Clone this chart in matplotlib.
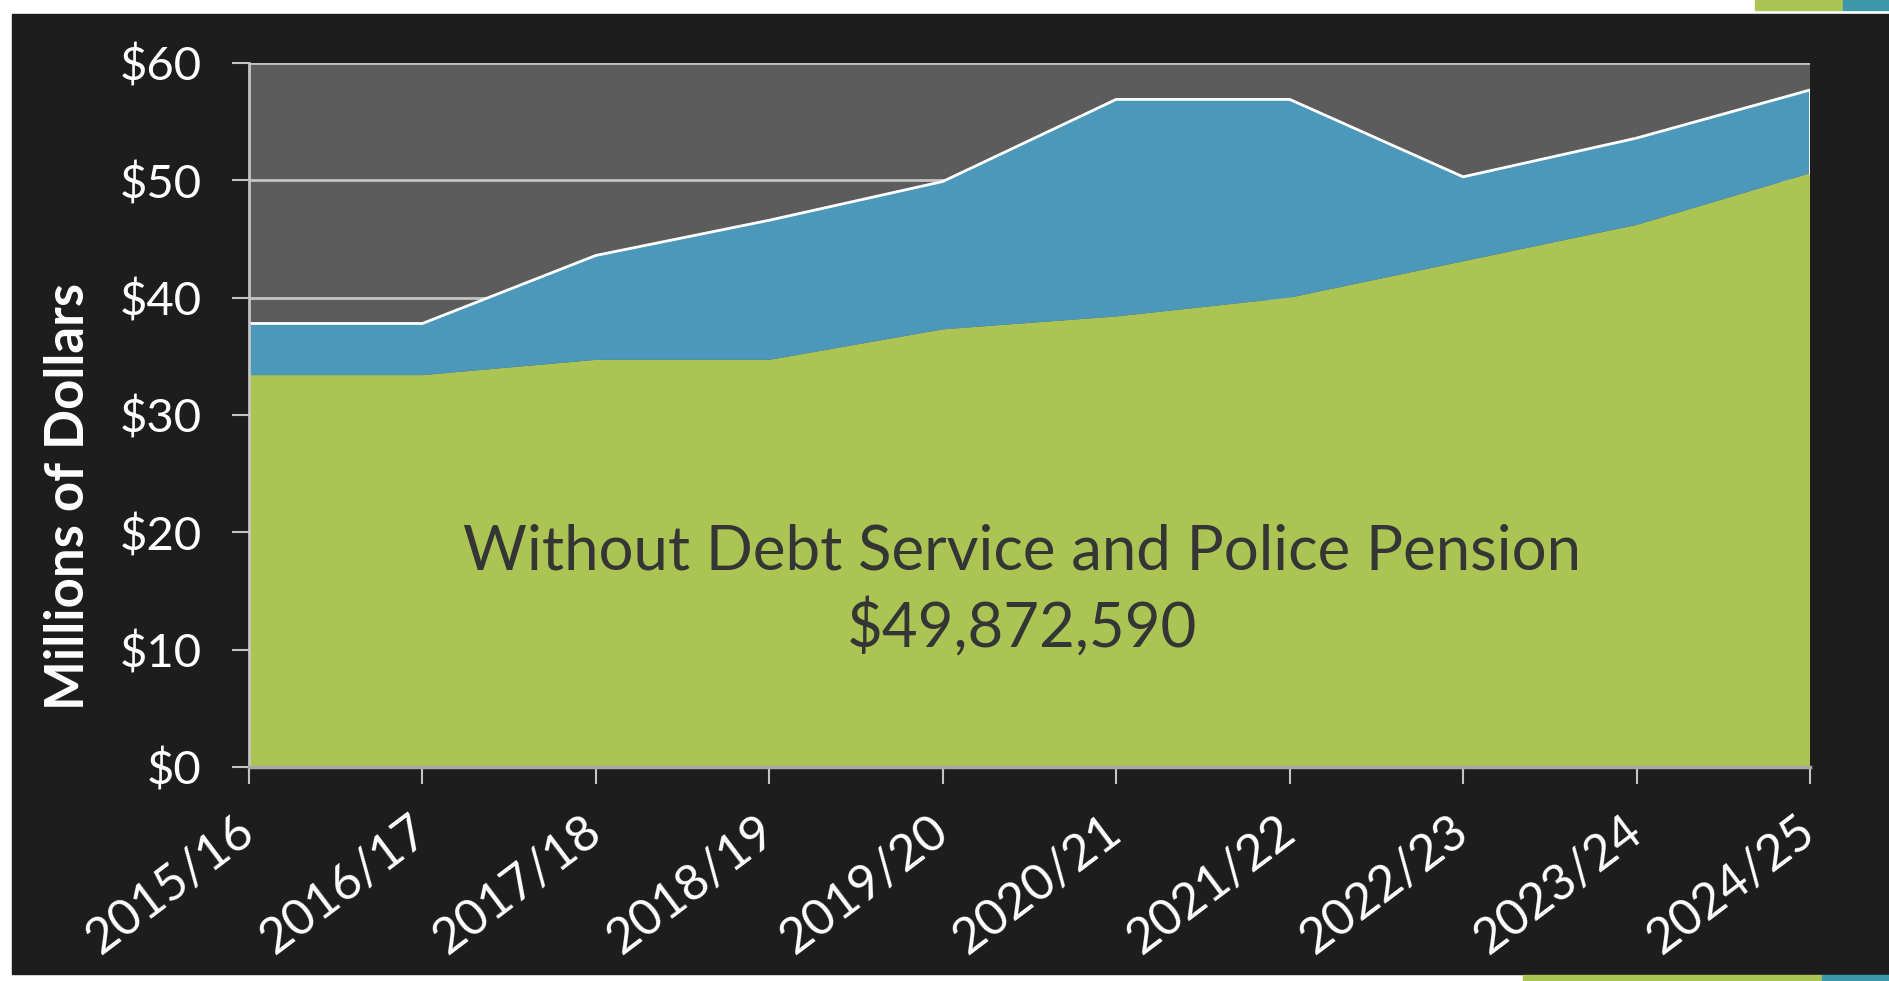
import numpy as np
import matplotlib
matplotlib.use("Agg")
import matplotlib.pyplot as plt
from matplotlib.patches import Rectangle

# fiscal years and values (millions of dollars)
years = ["2015/16", "2016/17", "2017/18", "2018/19", "2019/20",
         "2020/21", "2021/22", "2022/23", "2023/24", "2024/25"]
# without debt service and police pension (green layer)
base = np.array([33.4, 33.4, 34.7, 34.7, 37.3, 38.4, 40.0, 43.1, 46.2, 50.6])
# debt service and police pension (blue layer, stacked on top)
debt_pension = np.array([4.4, 4.4, 8.9, 11.9, 12.6, 18.5, 16.9, 7.2, 7.4, 7.1])
yticks = [0, 10, 20, 30, 40, 50, 60]
ytick_labels = ["$0", "$10", "$20", "$30", "$40", "$50", "$60"]
note_line1 = "Without Debt Service and Police Pension"
note_line2 = "$49,872,590"

GREEN = "#abc453"
BLUE = "#4c98ba"
PLOT_BG = "#5c5c5c"
PANEL = "#1d1d1d"
GRID = "#c4c4c4"
TEAL = "#3e97ab"

plt.rcParams['font.family'] = ['Lato', 'DejaVu Sans']

fig = plt.figure(figsize=(18.89, 9.81), dpi=100)
fig.patch.set_facecolor("white")

# dark slide panel and the coloured strips at the edges
for (x0, y0, w, h, c) in [(12, 7, 1877, 960, PANEL),
                          (1755, 971, 88, 10, GREEN),
                          (1843, 971, 46, 10, TEAL),
                          (1523, 0, 299, 6, GREEN),
                          (1822, 0, 67, 6, TEAL)]:
    fig.patches.append(Rectangle((x0 / 1889, y0 / 981), w / 1889, h / 981,
                                 transform=fig.transFigure, color=c, zorder=-10))

ax = fig.add_axes([249 / 1889, 1 - 767 / 981, (1810 - 249) / 1889, (767 - 63) / 981])
ax.set_zorder(1)
ax.set_facecolor(PLOT_BG)

x = np.arange(len(years))
total = base + debt_pension
ax.stackplot(x, base, debt_pension, colors=[GREEN, BLUE], linewidth=0, zorder=2)
ax.plot(x, total, color="white", lw=2, zorder=3, solid_joinstyle="miter")
ax.plot([x[-1], x[-1]], [base[-1], total[-1]], color="white", lw=2, zorder=3)

ax.set_xlim(x[0], x[-1])
ax.set_ylim(0, 60)
ax.set_yticks(yticks)
ax.set_yticklabels(ytick_labels)
ax.set_xticks(x)
ax.set_xticklabels(years)

ax.yaxis.grid(True, color=GRID, lw=2)
ax.set_axisbelow(True)

for side in ["top", "right"]:
    ax.spines[side].set_visible(False)
ax.spines["left"].set_color(GRID)
ax.spines["left"].set_linewidth(2)
ax.spines["bottom"].set_color("#a8a8a8")
ax.spines["bottom"].set_linewidth(2.5)
ax.spines["left"].set_zorder(4)
ax.spines["bottom"].set_zorder(4)

ax.tick_params(axis="y", direction="out", length=12, width=1.5, color=GRID,
               labelcolor="white", labelsize=34, pad=22)
ax.tick_params(axis="x", direction="out", length=12, width=1.5, color=GRID,
               labelcolor="white", labelsize=36, pad=30)
for lab in ax.get_xticklabels():
    lab.set_rotation(37)
    lab.set_ha("right")
    lab.set_va("center")
    lab.set_rotation_mode("anchor")

ax.set_ylabel("Millions of Dollars", color="white", fontsize=38, fontweight="bold")
ax.yaxis.set_label_coords(-0.1, 0.385)

ax.text(0.495, 0.305, note_line1, transform=ax.transAxes, ha="center", va="center",
        fontsize=44.5, color="#353535", zorder=5)
ax.text(0.495, 0.198, note_line2, transform=ax.transAxes, ha="center", va="center",
        fontsize=44.5, color="#353535", zorder=5)

fig.savefig("out.png", dpi=100, facecolor=fig.get_facecolor())
